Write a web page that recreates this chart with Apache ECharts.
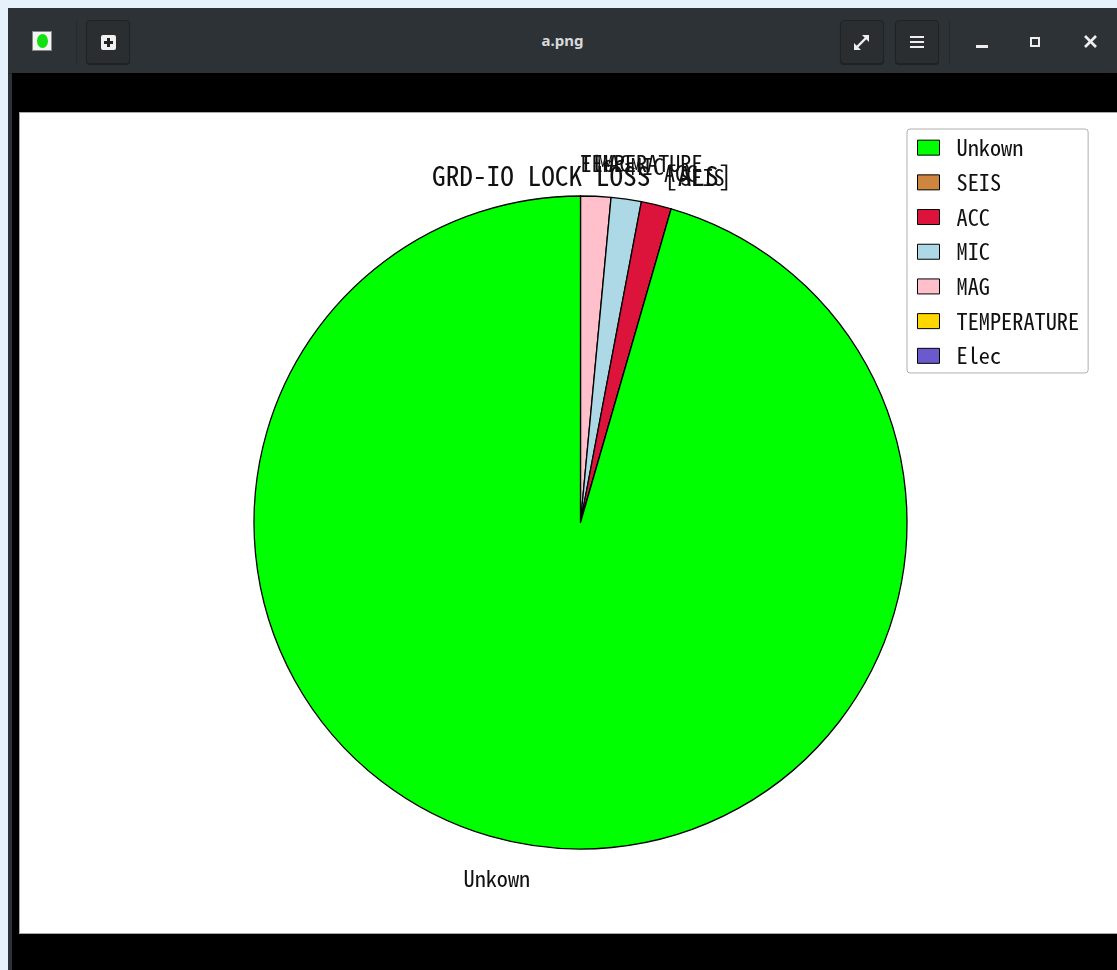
<!DOCTYPE html>
<html>
<head>
<meta charset="utf-8">
<script src="https://cdn.jsdelivr.net/npm/echarts@6/dist/echarts.min.js"></script>
<style>
  html, body { margin:0; padding:0; width:1117px; height:970px; overflow:hidden; background:#e6f1fb; }
  #win { position:absolute; left:8px; top:8px; width:1109px; height:962px; background:#2d3236; }
  #bar { position:absolute; left:0; top:0; width:1109px; height:65px; background:#2d3236; border-bottom:1px solid #23272a; }
  #view { position:absolute; left:4px; top:65px; width:1105px; height:897px; background:#000; }
  .btn { position:absolute; top:12px; width:44px; height:44px; border-radius:4px; background:#2a2e31; border:1px solid #202326; box-sizing:border-box; box-shadow:0 1px 1px rgba(0,0,0,0.35); }
  .sep { position:absolute; top:12px; width:1px; height:44px; background:#262a2d; }
  #wtitle { position:absolute; left:0; width:1109px; top:22px; text-align:center; color:#d8dadb; font:bold 15px "Noto Sans", "DejaVu Sans", sans-serif; }
  #chart { position:absolute; left:19px; top:112px; width:1097px; height:820px; border:1px solid #a8a8a8; border-right:none; background:#fff; }
  .ico { position:absolute; background:#eee; }
</style>
</head>
<body>
<div id="win">
  <div id="bar">
    <div style="position:absolute;left:24px;top:23px;width:20px;height:20px;background:#f4f4f4;border:1px solid #888;box-sizing:border-box;">
      <div style="position:absolute;left:4px;top:2px;width:11px;height:14px;border-radius:50%;background:#11e011;"></div>
    </div>
    <div class="sep" style="left:68px;"></div>
    <div class="btn" style="left:78px;">
      <div style="position:absolute;left:14px;top:14px;width:15px;height:15px;background:#f0f0f0;border-radius:2px;">
        <div style="position:absolute;left:6px;top:3px;width:3px;height:9px;background:#222;"></div>
        <div style="position:absolute;left:3px;top:6px;width:9px;height:3px;background:#222;"></div>
      </div>
    </div>
    <div id="wtitle">a.png</div>
    <div class="btn" style="left:832px;">
      <svg width="44" height="44" style="position:absolute;left:-1px;top:-1px">
        <g stroke="#eee" stroke-width="2.4" fill="#eee">
          <line x1="16" y1="28" x2="27" y2="17"/>
          <polygon points="29,15 29,22 22,15" stroke="none"/>
          <polygon points="14,30 14,23 21,30" stroke="none"/>
        </g>
      </svg>
    </div>
    <div class="btn" style="left:887px;">
      <div class="ico" style="left:14px;top:15px;width:14px;height:2px;"></div>
      <div class="ico" style="left:14px;top:20px;width:14px;height:2px;"></div>
      <div class="ico" style="left:14px;top:25px;width:14px;height:2px;"></div>
    </div>
    <div class="sep" style="left:941px;"></div>
    <div class="ico" style="left:968px;top:37px;width:12px;height:3px;"></div>
    <div style="position:absolute;left:1022px;top:29px;width:10px;height:10px;border:2.5px solid #eee;box-sizing:border-box;"></div>
    <svg width="16" height="16" style="position:absolute;left:1075px;top:26px">
      <g stroke="#eee" stroke-width="2.6"><line x1="2" y1="2" x2="13" y2="13"/><line x1="13" y1="2" x2="2" y2="13"/></g>
    </svg>
  </div>
  <div id="view"></div>
</div>
<div id="chart"></div>
<script>
// ---- data ----
const categories = ['Unkown', 'SEIS', 'ACC', 'MIC', 'MAG', 'TEMPERATURE', 'Elec'];
const counts = [64, 0, 1, 1, 1, 0, 0];
const sliceColors = ['#00ff00', '#cd853f', '#dc143c', '#add8e6', '#ffc0cb', '#ffd700', '#6a5acd'];
const chartTitle = 'GRD-IO LOCK LOSS [ALS]';

const FONT = "'Noto Sans Mono CJK JP', 'Noto Sans Mono CJK SC', 'DejaVu Sans Mono', monospace";
const R = 326.5;

// slices go counter-clockwise from 12 o'clock; drawn clockwise with reversed order
const pieData = categories.map((c, i) => ({ name: c, value: counts[i], itemStyle: { color: sliceColors[i] } })).reverse();

const chart = echarts.init(document.getElementById('chart'), null, {renderer: 'canvas'});
chart.setOption({
  animation: false,
  backgroundColor: '#ffffff',
  title: {
    text: chartTitle,
    left: 412,
    top: 49,
    padding: 0,
    textStyle: { fontFamily: FONT, fontSize: 27.3, fontWeight: 'normal', color: '#111', lineHeight: 27 }
  },
  legend: {
    orient: 'vertical',
    left: 887,
    top: 16,
    padding: [7.5, 9, 6, 10],
    itemWidth: 22,
    itemHeight: 15,
    itemGap: 12.4,
    icon: 'rect',
    borderColor: '#b0b0b0',
    borderWidth: 1,
    borderRadius: 3,
    backgroundColor: '#fff',
    data: categories,
    textStyle: { fontFamily: FONT, fontSize: 22.3, lineHeight: 22, color: '#111', padding: [0, 0, 0, 12] },
    itemStyle: { borderColor: '#000', borderWidth: 1 }
  },
  series: [{
    type: 'pie',
    center: [560.5, 409.5],
    radius: R,
    startAngle: 89.999,
    clockwise: true,
    avoidLabelOverlap: false,
    minShowLabelAngle: 0,
    stillShowZeroSum: true,
    labelLayout: { hideOverlap: false },
    itemStyle: { borderColor: '#000', borderWidth: 1.3 },
    emphasis: { disabled: true },
    label: {
      show: true,
      position: 'outside',
      fontFamily: FONT,
      fontSize: 22.2,
      color: '#111',
      distanceToLabelLine: 0
    },
    labelLine: { show: false, length: R * 0.1, length2: 0 },
    data: pieData
  }]
});
</script>
</body>
</html>
